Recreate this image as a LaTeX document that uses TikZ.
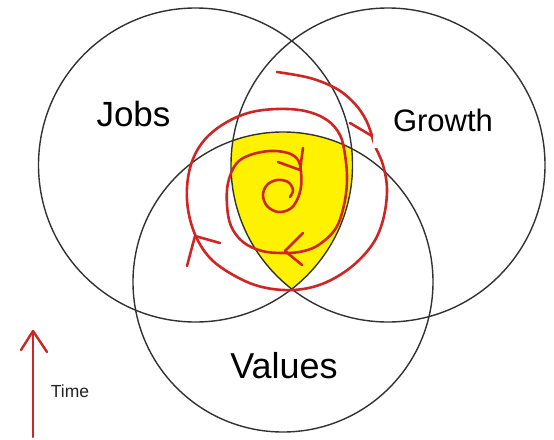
\documentclass[tikz,border=0pt]{standalone}
\usepackage{fontspec}
\setmainfont{Liberation Sans}
\definecolor{spiral}{RGB}{206,38,38}
\definecolor{ringcol}{RGB}{50,50,50}
\definecolor{timecol}{RGB}{35,35,35}
\begin{document}
\begin{tikzpicture}[x=1pt,y=-1pt,
  ring/.style={circle,draw=ringcol,line width=1.4pt,inner sep=0pt,fill=none},
  spir/.style={draw=spiral,line width=2.6pt,line cap=round,line join=round},
  mask/.style={fill=white,draw=none,inner sep=0pt},
  lbl/.style={text=black,inner sep=0pt,anchor=base}
]
\useasboundingbox (0,0) rectangle (554,439);
\fill[white] (0,0) rectangle (554,439);
% yellow triple intersection
\begin{scope}
  \clip (195.5,165) circle[radius=157];
  \clip (388,165) circle[radius=157];
  \fill[yellow] (283,282) circle[radius=150];
\end{scope}
% circles
\node[ring,minimum size=314pt] (jobs) at (195.5,165) {};
\node[ring,minimum size=314pt] (growth) at (388,165) {};
\node[ring,minimum size=300pt] (values) at (283,282) {};
% spiral
\draw[spir] plot[smooth,tension=0.6] coordinates {(277,72) (310,78) (337,89) (355,104) (366,120) (372,136)};
\draw[spir] (350,123) -- (372,136);
\draw[spir] plot[smooth,tension=0.6] coordinates {(372,136) (375,146) (383,165) (387,190) (383,220) (372,245) (350,268) (322,284) (293,290) (262,287) (235,276) (210,258) (194,232) (187,200) (190,168) (202,143) (222,125) (248,113) (277,109) (305,111) (327,120) (340,135) (345,155) (347,180) (344,205) (336,228) (320,244) (304,251) (285,253) (262,251) (243,242) (231,226) (227,205) (228,183) (236,164) (250,155) (270,151) (288,153) (298,160) (301,172) (301,187) (297,200) (290,209) (278,212) (267,206) (263,195) (267,185) (277,180) (288,182) (293,190) (290,197)};
% arrow heads on the spiral
\draw[spir] (278,162) -- (300,170) -- (303,148);
\draw[spir] (303,233) -- (285,251) -- (302,265);
\draw[spir] (187,266) -- (195,236) -- (220,243);
% label masks
\node[mask,minimum width=132pt,minimum height=57pt] (jobsmask) at (142,104.5) {};
\node[mask,minimum width=147pt,minimum height=61pt] (growthmask) at (446.5,117.5) {};
% labels
\node[lbl,font=\fontsize{35}{35}\selectfont] (jobstxt) at (133.5,126) {Jobs};
\node[lbl,font=\fontsize{31}{31}\selectfont] (growthtxt) at (443,131) {Growth};
\node[lbl,font=\fontsize{36}{36}\selectfont] (valuestxt) at (284,378) {Values};
% time arrow
\coordinate (tbase) at (33,437);
\coordinate (ttip) at (33,331);
\draw[spir,line width=2.4pt] (tbase) -- (ttip);
\draw[spir,line width=2.4pt] (21,350) -- (ttip) -- (47,352);
\node[lbl,text=timecol,font=\fontsize{17.5}{17.5}\selectfont] (timetxt) at (70,397) {Time};
\end{tikzpicture}
\end{document}
